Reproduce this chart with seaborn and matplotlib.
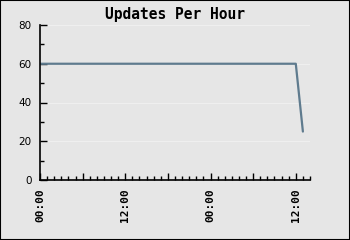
import matplotlib
matplotlib.use("Agg")
import matplotlib.pyplot as plt
import matplotlib.dates as mdates
import seaborn as sns
import pandas as pd

title = "Updates Per Hour"
start = "2024-01-01 00:00"
hours = list(range(38))
values = [60, 60, 60, 60, 60, 60, 60, 60, 60, 60, 60, 60, 60, 60, 60, 60, 60, 60, 60,
          60, 60, 60, 60, 60, 60, 60, 60, 60, 60, 60, 60, 60, 60, 60, 60, 60, 60, 25]
y_ticks = [0, 20, 40, 60, 80]

times = pd.Timestamp(start) + pd.to_timedelta(hours, unit="h")
df = pd.DataFrame({"time": times, "updates": values})

sns.set_theme(style="white")
plt.rcParams["font.family"] = ["DejaVu Sans"]

bg = "#e6e6e6"
fig = plt.figure(figsize=(3.5, 2.4), dpi=100, facecolor=bg)
fig.patches.append(plt.Rectangle((0, 0), 1, 1, transform=fig.transFigure,
                                 fill=False, edgecolor="black", linewidth=1.5))
ax = fig.add_axes([40/350, 60/240, 270/350, 155/240])
ax.set_facecolor(bg)

sns.lineplot(data=df, x="time", y="updates", ax=ax, color="#5f7b8e", linewidth=1.6)

ax.set_ylim(0, 80)
ax.set_xlim(pd.Timestamp(start), pd.Timestamp(start) + pd.Timedelta(hours=38))
ax.set_yticks(y_ticks)
ax.yaxis.set_minor_locator(matplotlib.ticker.MultipleLocator(10))
ax.grid(axis="y", which="major", color="#efefef", linewidth=0.8)
ax.set_axisbelow(True)

ax.xaxis.set_major_locator(mdates.HourLocator(byhour=[0, 6, 12, 18]))
ax.xaxis.set_minor_locator(mdates.HourLocator())

def fmt(x, pos):
    d = mdates.num2date(x)
    return d.strftime("%H:%M") if d.hour in (0, 12) else ""

ax.xaxis.set_major_formatter(matplotlib.ticker.FuncFormatter(fmt))

for s in ["top", "right"]:
    ax.spines[s].set_visible(False)
for s in ["left", "bottom"]:
    ax.spines[s].set_color("black")
    ax.spines[s].set_linewidth(1.2)

ax.tick_params(axis="both", which="both", bottom=True, left=True, top=False, right=False)
ax.tick_params(axis="both", which="major", direction="in", length=5, width=1, color="black")
ax.tick_params(axis="both", which="minor", direction="in", length=3, width=1, color="black")
ax.tick_params(axis="y", which="major", labelsize=7.5, pad=6, labelcolor="black")
ax.tick_params(axis="x", which="major", labelsize=8, pad=6, labelcolor="black", labelrotation=90)
for lbl in ax.get_xticklabels():
    lbl.set_fontfamily("DejaVu Sans Mono")
    lbl.set_fontweight("bold")

ax.set_xlabel("")
ax.set_ylabel("")
fig.text(0.5, 1 - 15/240, title, ha="center", va="center", fontsize=10.5,
         fontweight="bold", family="DejaVu Sans Mono", color="black")

fig.savefig("out.png", dpi=100, facecolor=bg)
